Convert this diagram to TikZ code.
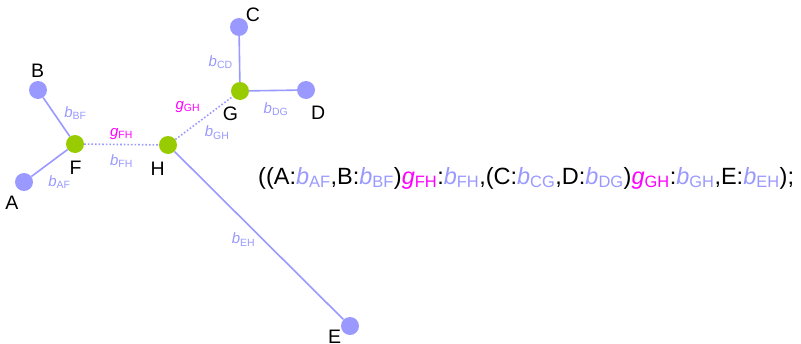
\documentclass[tikz,border=0pt]{standalone}
\usepackage{fontspec}
\setmainfont{Liberation Sans}
\usetikzlibrary{positioning}
\definecolor{brlen}{HTML}{9999FF}
\definecolor{inner}{HTML}{99CC00}
\definecolor{gcol}{HTML}{FF00FF}
\newcommand{\bl}[1]{{\color{brlen}\textit{b}\textsubscript{#1}}}
\newcommand{\gl}[1]{{\color{gcol}\textit{g}\textsubscript{#1}}}

\begin{document}
\begin{tikzpicture}[x=1pt, y=-1pt,
    leaf/.style={circle, fill=brlen, inner sep=0pt, minimum size=18pt},
    internal/.style={circle, fill=inner, inner sep=0pt, minimum size=18pt},
    edge/.style={draw=brlen, line width=1.6pt},
    gedge/.style={draw=brlen, line width=1.6pt, dotted},
    elab/.style={font=\fontsize{15}{17}\selectfont, inner sep=1pt},
    every label/.style={font=\fontsize{19.5}{22}\selectfont, inner sep=1pt}]
  \useasboundingbox (0,0) rectangle (801,343);

  % tree nodes
  \node[leaf, label={[label distance=2pt]92:B}] (B) at (38,90) {};
  \node[leaf, label={[label distance=4pt]-110:A}] (A) at (24,182) {};
  \node[internal, label={[label distance=7pt]-88:F}] (F) at (75,144) {};
  \node[internal, label={[label distance=7pt]-97:H}] (H) at (168,145) {};
  \node[internal, label={[label distance=6pt]-93:G}] (G) at (240,91) {};
  \node[leaf, label={[label distance=-2pt]38:C}] (C) at (239,27) {};
  \node[leaf, label={[label distance=6pt]-75:D}] (D) at (306,90) {};
  \node[leaf, label={[label distance=-1pt]-160:E}] (E) at (350,326) {};

  % branches
  \draw[edge] (B) -- (F) node[elab, midway, right=6pt, yshift=4pt] {\bl{BF}};
  \draw[edge] (A) -- (F) node[elab, midway, below right=11pt and -3pt] {\bl{AF}};
  \draw[gedge] (F) -- (H) node[elab, midway, above=3pt] {\gl{FH}}
                          node[elab, midway, below=8pt] {\bl{FH}};
  \draw[gedge] (H) -- (G) node[elab, midway, above left=4pt and 2pt] {\gl{GH}}
                          node[elab, midway, below right=6pt and -1pt] {\bl{GH}};
  \draw[edge] (C) -- (G) node[elab, midway, left=5pt, yshift=-3pt] {\bl{CD}};
  \draw[edge] (G) -- (D) node[elab, midway, below=10pt, xshift=3pt] {\bl{DG}};
  \draw[edge] (H) -- (E) node[elab, midway, left=2pt, yshift=-4pt] {\bl{EH}};

  % newick string
  \node[anchor=west, inner sep=0pt, font=\fontsize{23.5}{26}\selectfont] (newick) at (258,178)
    {((A:\bl{AF},B:\bl{BF})\gl{FH}:\bl{FH},(C:\bl{CG},D:\bl{DG})\gl{GH}:\bl{GH},E:\bl{EH});};
\end{tikzpicture}
\end{document}
